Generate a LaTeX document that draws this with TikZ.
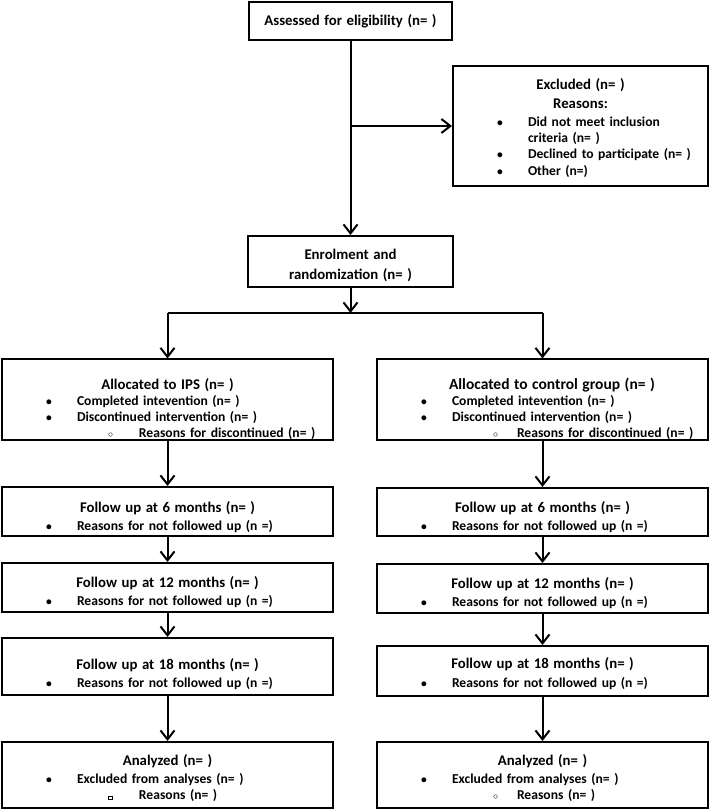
\documentclass[tikz,border=0pt]{standalone}
\usepackage{fontspec}
\setmainfont{Carlito}
\usetikzlibrary{arrows.meta}
\setlength{\parindent}{0pt}

\newcommand{\hdfont}{\fontsize{14.8}{16}\selectfont}
\newcommand{\itfont}{\fontsize{13.6}{16}\selectfont}
\newcommand{\tp}[1]{\rule{0pt}{#1}}
\newcommand{\hd}[2][0pt]{\leavevmode\null\hspace*{#1}\hfill{\hdfont #2}\hfill\null}
\newcommand{\wide}[3]{\leavevmode\hspace*{#1}\makebox[#2][s]{\fontsize{15.5}{16}\selectfont #3}}
\newcommand{\dotsym}{{\fontsize{11.5}{11.5}\selectfont\textbullet}}
\newcommand{\bul}[1]{\leavevmode\hspace*{44pt}\makebox[31pt][l]{\dotsym}#1}
\newcommand{\subbul}[4]{\leavevmode\rlap{\hspace*{#1}#3}\hspace*{#2}#4}
\newcommand{\crc}{{\fontsize{10}{10}\selectfont$\circ$}}
\newcommand{\sqr}{\raisebox{0.5pt}{\setlength{\fboxsep}{0pt}\setlength{\fboxrule}{0.5pt}\fbox{\rule{0pt}{3pt}\hspace{3pt}}}}

\tikzset{
  box/.style={draw, inner xsep=0pt, inner ysep=0pt, align=left,
    font=\itfont\bfseries},
  colbox/.style={box, minimum width=331pt, text width=331pt},
  arr/.style={-{Straight Barb[length=9pt,width=14pt]}}
}

\begin{document}
\begin{tikzpicture}[x=1pt,y=-1pt,line width=2pt]
\useasboundingbox (0,0) rectangle (709,809);

\node[box, minimum width=203pt, text width=203pt, minimum height=38pt] (assess) at (350.5,21)
  {\hd{Assessed for eligibility (n= )}};
\node[box, minimum width=255pt, text width=255pt, minimum height=120pt] (excl) at (580.5,126)
  {\tp{15pt}\hd{Excluded (n= )}\\[3pt]
   \hd{Reasons:}\\[2pt]
   \bul{Did not meet inclusion}\\[0.5pt]
   \hspace*{75pt}criteria (n= )\\
   \bul{Declined to participate (n= )}\\[0.5pt]
   \bul{Other (n=)}};
\node[box, minimum width=205pt, text width=205pt, minimum height=51pt] (enrol) at (350.5,261.5)
  {\tp{19pt}\hd{Enrolment and}\\[4pt]
   \hd{randomization (n= )}};

\node[colbox, minimum height=75pt] (ips) at (167.5,399.5)
  {\tp{30pt}\hd{Allocated to IPS (n= )}\\
   \bul{Completed intevention (n= )}\\
   \bul{Discontinued intervention (n= )}\\
   \subbul{106pt}{137pt}{\crc}{Reasons for discontinued (n= )}};
\node[colbox, minimum height=75pt] (ctrl) at (542.5,399.5)
  {\tp{30pt}\wide{72pt}{236pt}{Allocated to control group (n= )}\\
   \bul{Completed intevention (n= )}\\
   \bul{Discontinued intervention (n= )}\\
   \subbul{116pt}{140pt}{\crc}{Reasons for discontinued (n= )}};

\node[colbox, minimum height=49pt] (fuA6) at (167.5,511.5)
  {\tp{22pt}\hd{Follow up at 6 months (n= )}\\[2pt]
   \bul{Reasons for not followed up (n =)}};
\node[colbox, minimum height=48pt] (fuB6) at (542.5,512)
  {\tp{22pt}\hd{Follow up at 6 months (n= )}\\[2pt]
   \bul{Reasons for not followed up (n =)}};
\node[colbox, minimum height=49pt] (fuA12) at (167.5,587.5)
  {\tp{21pt}\hd{Follow up at 12 months (n= )}\\[2pt]
   \bul{Reasons for not followed up (n =)}};
\node[colbox, minimum height=49pt] (fuB12) at (542.5,588.5)
  {\tp{21pt}\hd{Follow up at 12 months (n= )}\\[2pt]
   \bul{Reasons for not followed up (n =)}};
\node[colbox, minimum height=57pt] (fuA18) at (167.5,666.5)
  {\tp{27pt}\hd{Follow up at 18 months (n= )}\\[2pt]
   \bul{Reasons for not followed up (n =)}};
\node[colbox, minimum height=50pt] (fuB18) at (542.5,671)
  {\tp{17pt}\hd{Follow up at 18 months (n= )}\\[3pt]
   \bul{Reasons for not followed up (n =)}};

\node[colbox, minimum height=66pt] (anA) at (167.5,775)
  {\tp{18pt}\hd{Analyzed (n= )}\\[2pt]
   \bul{Excluded from analyses (n= )}\\
   \subbul{106pt}{137pt}{\sqr}{Reasons (n= )}};
\node[colbox, minimum height=66pt] (anB) at (542.5,775)
  {\tp{18pt}\hd{Analyzed (n= )}\\[2pt]
   \bul{Excluded from analyses (n= )}\\
   \subbul{116pt}{140pt}{\crc}{Reasons (n= )}};

\coordinate (split) at (350.5,313);
\draw[arr] (assess) -- (enrol);
\draw[arr] (excl.west -| assess.south) -- (excl);
\draw[arr] (enrol) -- (split);
\draw (ips.north |- split) -- (ctrl.north |- split);
\draw[arr] (ips.north |- split) -- (ips);
\draw[arr] (ctrl.north |- split) -- (ctrl);
\foreach \a/\b in {ips/fuA6, fuA6/fuA12, fuA12/fuA18, fuA18/anA,
                   ctrl/fuB6, fuB6/fuB12, fuB12/fuB18, fuB18/anB}
  \draw[arr] (\a) -- (\b);
\end{tikzpicture}
\end{document}
